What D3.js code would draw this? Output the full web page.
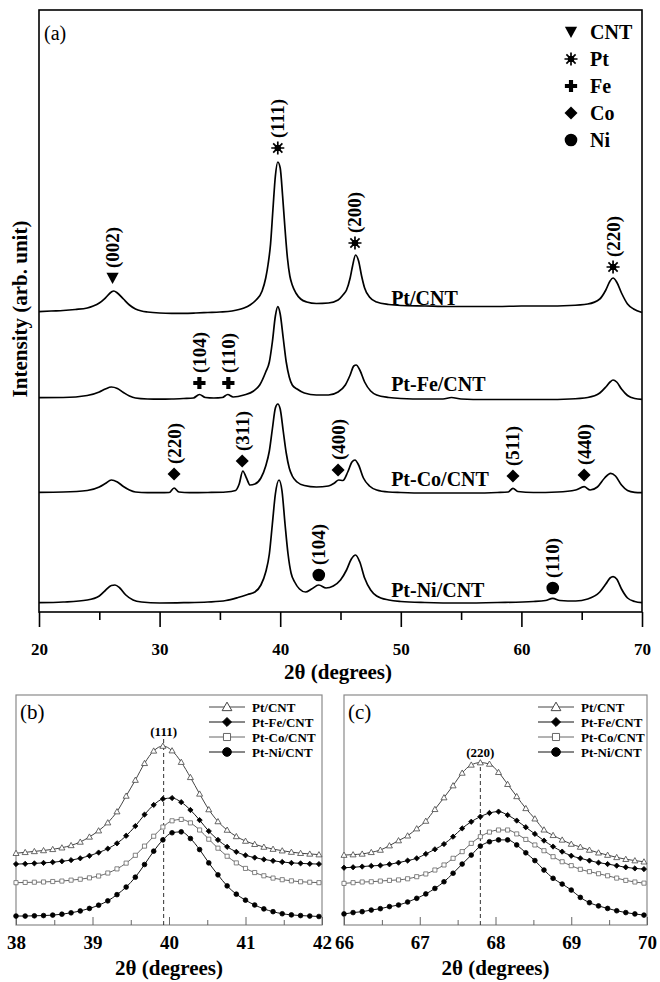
<!DOCTYPE html>
<html>
<head>
<meta charset="utf-8">
<script src="https://cdn.jsdelivr.net/npm/d3@7"></script>
<style>
  body { margin: 0; background: #fff; }
  svg text { font-family: "Liberation Serif", "Times New Roman", serif; }
</style>
</head>
<body>
<div id="chart"></div>
<script>
// ---------- data : panel (a), full XRD patterns [2theta, intensity] ----------
var samples = ["Pt/CNT", "Pt-Fe/CNT", "Pt-Co/CNT", "Pt-Ni/CNT"];
var traceOffsets = [2980, 2120, 1170, 60];

var xrdPtCNT = [[20,23],[21,30],[22,35],[23,45],[24,60],[24.5,80],[25,110],[25.5,160],[26,220],[26.2,230],[26.5,210],[27,150],[27.5,90],[28,50],[28.5,30],[29,20],[30,10],[31,7],[32,7],[33,10],[34,15],[35,20],[36,30],[37,60],[37.5,90],[38,140],[38.5,230],[38.8,360],[39,500],[39.2,700],[39.4,1050],[39.6,1380],[39.8,1520],[40,1460],[40.2,1180],[40.4,850],[40.6,560],[40.8,380],[41,290],[41.3,210],[41.7,150],[42.2,120],[43,105],[44,110],[44.8,140],[45.2,190],[45.5,240],[45.8,360],[46,480],[46.25,590],[46.5,530],[46.75,380],[47,260],[47.4,170],[48,120],[49,95],[50,85],[52,80],[54,75],[56,75],[58,75],[60,80],[62,80],[64,85],[65.5,100],[66.5,150],[67,240],[67.35,330],[67.6,360],[67.9,320],[68.3,210],[68.8,100],[69.3,50],[70,15]];

var xrdPtFe = [[20,23],[22,25],[24,45],[25,80],[25.5,110],[26,130],[26.5,115],[27,75],[27.5,40],[28,20],[29,10],[30,8],[31,10],[32,15],[32.8,20],[33.3,55],[33.8,25],[34.5,20],[35.2,25],[35.65,55],[36.1,30],[37,50],[37.8,90],[38.3,150],[38.8,280],[39.1,380],[39.35,580],[39.6,840],[39.8,933],[40,860],[40.25,620],[40.5,380],[40.75,230],[41,150],[41.4,110],[42,70],[43,50],[44,50],[44.8,80],[45.4,150],[45.8,250],[46.1,340],[46.3,350],[46.6,300],[47,180],[47.5,90],[48,50],[49,25],[50,15],[52,10],[53.5,10],[54.2,25],[55,10],[57,5],[60,5],[62,5],[64,10],[65.5,25],[66.5,70],[67,130],[67.35,180],[67.6,200],[67.9,180],[68.3,110],[68.8,45],[69.4,15],[70,7]];

var xrdPtCo = [[20,27],[22,30],[24,45],[25,80],[25.5,115],[26,150],[26.5,130],[27,85],[27.5,50],[28,30],[29,23],[30,23],[30.8,25],[31.2,70],[31.6,30],[32.5,23],[34,25],[35.5,30],[36.3,45],[36.6,110],[36.9,240],[37.2,170],[37.5,100],[37.9,110],[38.4,170],[38.8,290],[39.1,440],[39.35,660],[39.6,870],[39.8,910],[40,860],[40.25,640],[40.5,420],[40.75,270],[41,190],[41.4,130],[42,95],[43,80],[44,90],[44.5,120],[44.85,150],[45.2,145],[45.6,230],[45.95,330],[46.2,350],[46.5,300],[46.9,170],[47.4,90],[48,50],[49,30],[50,25],[52,20],[54,20],[56,20],[58,25],[58.9,30],[59.3,67],[59.7,35],[61,25],[63,30],[64.5,50],[65.2,83],[65.7,50],[66.3,80],[66.9,170],[67.4,217],[67.8,190],[68.3,100],[68.8,45],[69.4,27],[70,23]];

var xrdPtNi = [[20,33],[22,40],[24,60],[25,100],[25.5,155],[26,205],[26.3,210],[26.7,180],[27.2,110],[27.8,60],[28.5,40],[30,30],[32,33],[34,40],[35.5,55],[36.5,85],[37.3,115],[37.9,140],[38.4,210],[38.8,340],[39.1,520],[39.35,820],[39.6,1120],[39.9,1260],[40.15,1150],[40.4,820],[40.65,520],[40.9,330],[41.2,240],[41.6,170],[42.1,140],[42.6,170],[43.2,210],[43.8,180],[44.4,200],[45,260],[45.5,360],[45.9,470],[46.25,510],[46.6,440],[47,280],[47.5,160],[48,100],[49,60],[50,45],[52,35],[55,30],[58,35],[61,45],[62,55],[62.6,77],[63.2,55],[64.5,50],[65.5,70],[66.5,140],[67,220],[67.35,280],[67.6,293],[67.9,270],[68.3,170],[68.8,80],[69.4,45],[70,33]];

var xrdTraces = [xrdPtCNT, xrdPtFe, xrdPtCo, xrdPtNi];

// phase legend and indexed reflections
var phases = ["CNT", "Pt", "Fe", "Co", "Ni"];
var peakLabels = [
  {sample: 0, phase: "CNT", hkl: "(002)", twoTheta: 26.1,  intensity: 360},
  {sample: 0, phase: "Pt",  hkl: "(111)", twoTheta: 39.8,  intensity: 1660},
  {sample: 0, phase: "Pt",  hkl: "(200)", twoTheta: 46.2,  intensity: 710},
  {sample: 0, phase: "Pt",  hkl: "(220)", twoTheta: 67.6,  intensity: 470},
  {sample: 1, phase: "Fe",  hkl: "(104)", twoTheta: 33.3,  intensity: 170},
  {sample: 1, phase: "Fe",  hkl: "(110)", twoTheta: 35.7,  intensity: 170},
  {sample: 2, phase: "Co",  hkl: "(220)", twoTheta: 31.2,  intensity: 210},
  {sample: 2, phase: "Co",  hkl: "(311)", twoTheta: 36.85, intensity: 340},
  {sample: 2, phase: "Co",  hkl: "(400)", twoTheta: 44.8,  intensity: 250},
  {sample: 2, phase: "Co",  hkl: "(511)", twoTheta: 59.3,  intensity: 190},
  {sample: 2, phase: "Co",  hkl: "(440)", twoTheta: 65.2,  intensity: 200},
  {sample: 3, phase: "Ni",  hkl: "(104)", twoTheta: 43.2,  intensity: 310},
  {sample: 3, phase: "Ni",  hkl: "(110)", twoTheta: 62.6,  intensity: 180}
];

var mainTicks = [20, 30, 40, 50, 60, 70];
var mainMinorTicks = [25, 35, 45, 55, 65];

// ---------- data : panel (b), Pt (111) region ----------
var theta111 = [38.00,38.12,38.24,38.36,38.48,38.60,38.72,38.84,38.96,39.08,39.20,39.32,39.44,39.56,39.68,39.80,39.92,40.04,40.16,40.28,40.40,40.52,40.64,40.76,40.88,41.00,41.12,41.24,41.36,41.48,41.60,41.72,41.84,41.96];
var i111PtCNT = [31.2,31.6,32.0,32.4,32.9,33.6,34.6,36.1,38.3,41.0,44.5,49.3,56.1,63.0,70.3,75.7,77.8,75.8,70.8,64.2,57.0,50.2,45.0,41.3,38.5,36.5,35.1,33.9,33.0,32.3,31.7,31.2,30.9,30.6];
var i111PtFe  = [26.5,26.6,26.8,27.0,27.3,27.7,28.2,29.0,30.1,31.5,33.2,35.5,38.8,43.0,48.0,52.2,54.8,55.2,53.4,50.0,45.6,40.8,37.0,34.0,31.8,30.3,29.3,28.5,27.9,27.4,27.0,26.8,26.6,26.5];
var i111PtCo  = [18.4,18.5,18.6,18.7,18.9,19.1,19.5,19.9,20.5,21.3,22.6,24.4,26.9,30.3,34.3,38.6,42.6,45.3,45.9,44.4,41.3,37.3,33.4,29.9,27.0,24.6,22.8,21.4,20.4,19.7,19.2,18.8,18.6,18.4];
var i111PtNi  = [3.9,3.9,4.0,4.1,4.3,4.7,5.3,6.1,7.2,8.6,10.5,13.2,16.5,20.8,26.3,32.1,37.0,40.1,40.5,37.6,32.8,27.0,21.8,17.0,13.4,10.8,8.7,7.0,5.8,4.9,4.4,4.1,3.9,3.7];
var peak111 = 39.93;
var ticks111 = [38, 39, 40, 41, 42];
var minor111 = [38.5, 39.5, 40.5, 41.5];

// ---------- data : panel (c), Pt (220) region ----------
var theta220 = [66.00,66.12,66.24,66.36,66.48,66.60,66.72,66.84,66.96,67.08,67.20,67.32,67.44,67.56,67.68,67.80,67.92,68.04,68.16,68.28,68.40,68.52,68.64,68.76,68.88,69.00,69.12,69.24,69.36,69.48,69.60,69.72,69.84,69.96];
var i220PtCNT = [30.4,30.6,30.9,31.6,32.6,34.5,36.7,38.8,41.9,45.2,50.3,55.4,60.6,66.1,69.6,70.6,70.0,66.4,61.2,55.9,50.7,46.2,41.4,39.0,37.0,35.2,33.9,32.6,31.4,30.4,29.4,28.6,28.0,27.5];
var i220PtFe  = [24.9,25.1,25.4,25.7,25.9,26.4,27.1,28.0,29.0,30.9,32.9,35.2,38.4,42.0,44.9,47.1,48.7,49.3,47.8,45.4,42.5,39.6,36.7,34.1,31.9,30.1,29.0,28.0,27.1,26.5,25.8,25.1,24.6,24.3];
var i220PtCo  = [18.1,18.4,18.7,18.8,19.1,19.4,19.6,20.1,21.0,22.2,23.9,26.1,29.0,31.9,35.5,38.4,40.4,41.3,41.3,39.6,37.2,34.8,32.3,29.7,27.5,25.8,24.2,23.2,22.3,21.4,20.4,19.4,18.7,18.2];
var i220PtNi  = [4.8,5.4,5.8,6.5,7.1,8.0,8.7,10.0,11.6,13.5,15.9,18.8,22.5,26.5,30.4,34.3,36.2,37.0,37.0,34.8,31.4,28.0,23.9,20.3,17.8,15.2,12.0,9.7,8.3,7.2,6.2,5.4,4.8,4.3];
var peak220 = 67.8;
var ticks220 = [66, 67, 68, 69, 70];
var minor220 = [66.5, 67.5, 68.5, 69.5];

// ---------- symbols (size = diameter^2) ----------
function rad(size) { return Math.sqrt(size) / 2; }
var symDown = { draw: function(c, s) { var r = rad(s); c.moveTo(-r, -r * 0.85); c.lineTo(r, -r * 0.85); c.lineTo(0, r); c.closePath(); } };
var symUp = { draw: function(c, s) { var r = rad(s); c.moveTo(0, -r); c.lineTo(r, r * 0.75); c.lineTo(-r, r * 0.75); c.closePath(); } };
var symStar = { draw: function(c, s) {
  var r = rad(s);
  for (var k = 0; k < 4; k++) {
    var a = k * Math.PI / 4;
    c.moveTo(r * Math.cos(a), r * Math.sin(a));
    c.lineTo(-r * Math.cos(a), -r * Math.sin(a));
  }
  var cr = r * 0.38;
  c.moveTo(cr, 0); c.arc(0, 0, cr, 0, 2 * Math.PI);
} };
var symPlus = { draw: function(c, s) {
  var r = rad(s), t = r * 0.34;
  c.moveTo(-t, -r); c.lineTo(t, -r); c.lineTo(t, -t); c.lineTo(r, -t); c.lineTo(r, t); c.lineTo(t, t);
  c.lineTo(t, r); c.lineTo(-t, r); c.lineTo(-t, t); c.lineTo(-r, t); c.lineTo(-r, -t); c.lineTo(-t, -t); c.closePath();
} };
var symDiamond = { draw: function(c, s) { var r = rad(s); c.moveTo(0, -r); c.lineTo(r, 0); c.lineTo(0, r); c.lineTo(-r, 0); c.closePath(); } };
var symSquare = { draw: function(c, s) { var r = rad(s); c.rect(-r, -r, 2 * r, 2 * r); } };
var symCircle = { draw: function(c, s) { var r = rad(s); c.moveTo(r, 0); c.arc(0, 0, r, 0, 2 * Math.PI); } };

var phaseSymbol = {CNT: symDown, Pt: symStar, Fe: symPlus, Co: symDiamond, Ni: symCircle};
var phaseSize = {CNT: 150, Pt: 170, Fe: 150, Co: 170, Ni: 160};

var zoomStyle = [
  {type: symUp,      size: 36, legendSize: 95, fill: "#fff", stroke: "#444", line: "#444"},
  {type: symDiamond, size: 28, legendSize: 80, fill: "#000", stroke: "#000", line: "#111"},
  {type: symSquare,  size: 17, legendSize: 50, fill: "#fff", stroke: "#666", line: "#666"},
  {type: symCircle,  size: 22, legendSize: 75, fill: "#000", stroke: "#000", line: "#111"}
];

// ---------- drawing ----------
var svg = d3.select("#chart").append("svg")
  .attr("width", 660)
  .attr("height", 982);

// panel (a)
var a = {left: 39, right: 642, top: 10, bottom: 612};
var xA = d3.scaleLinear().domain([20, 70]).range([a.left, a.right]);
var yA = d3.scaleLinear().domain([0, 6020]).range([a.bottom, a.top]);

svg.append("rect")
  .attr("x", a.left).attr("y", a.top)
  .attr("width", a.right - a.left).attr("height", a.bottom - a.top)
  .attr("fill", "none").attr("stroke", "#000").attr("stroke-width", 1.6);

var axA = svg.append("g")
  .attr("transform", "translate(0," + a.bottom + ")")
  .call(d3.axisBottom(xA).tickValues(mainTicks).tickSize(15).tickSizeOuter(0).tickPadding(16).tickFormat(d3.format("d")));
axA.select(".domain").remove();
axA.selectAll("line").attr("stroke-width", 1.6);
axA.selectAll("text").attr("font-size", 17).attr("font-weight", "bold")
  .attr("font-family", "Liberation Serif, Times New Roman, serif");

var axAminor = svg.append("g")
  .attr("transform", "translate(0," + a.bottom + ")")
  .call(d3.axisBottom(xA).tickValues(mainMinorTicks).tickSize(8).tickSizeOuter(0).tickFormat(""));
axAminor.select(".domain").remove();
axAminor.selectAll("line").attr("stroke-width", 1.6);

xrdTraces.forEach(function(trace, i) {
  var line = d3.line()
    .x(function(d) { return xA(d[0]); })
    .y(function(d) { return yA(d[1] + traceOffsets[i]); })
    .curve(d3.curveMonotoneX);
  svg.append("path")
    .datum(trace)
    .attr("d", line)
    .attr("fill", "none")
    .attr("stroke", "#000")
    .attr("stroke-width", 1.7);

  svg.append("text")
    .attr("x", xA(49.2))
    .attr("y", yA(traceOffsets[i]) - 9)
    .attr("font-size", 20).attr("font-weight", "bold")
    .text(samples[i]);
});

var marks = svg.selectAll(".peak")
  .data(peakLabels)
  .enter().append("g")
  .attr("class", "peak")
  .attr("transform", function(d) {
    return "translate(" + xA(d.twoTheta) + "," + yA(d.intensity + traceOffsets[d.sample]) + ")";
  });

marks.append("path")
  .attr("d", function(d) { return d3.symbol().type(phaseSymbol[d.phase]).size(phaseSize[d.phase])(); })
  .attr("fill", "#000")
  .attr("stroke", "#000")
  .attr("stroke-width", function(d) { return d.phase === "Pt" ? 1.7 : 0; });

marks.append("text")
  .attr("transform", "rotate(-90)")
  .attr("x", 10)
  .attr("dy", "0.34em")
  .attr("font-size", 19).attr("font-weight", "bold")
  .text(function(d) { return d.hkl; });

var legA = svg.selectAll(".phase")
  .data(phases)
  .enter().append("g")
  .attr("class", "phase")
  .attr("transform", function(d, i) { return "translate(571," + (32 + i * 27) + ")"; });
legA.append("path")
  .attr("d", function(d) { return d3.symbol().type(phaseSymbol[d]).size(phaseSize[d])(); })
  .attr("fill", "#000").attr("stroke", "#000")
  .attr("stroke-width", function(d) { return d === "Pt" ? 1.7 : 0; });
legA.append("text")
  .attr("x", 19).attr("dy", "0.35em")
  .attr("font-size", 20).attr("font-weight", "bold")
  .text(function(d) { return d; });

svg.append("text").attr("x", 44).attr("y", 40).attr("font-size", 20).text("(a)");

svg.append("text")
  .attr("transform", "translate(27,309) rotate(-90)")
  .attr("text-anchor", "middle")
  .attr("font-size", 21).attr("font-weight", "bold")
  .text("Intensity (arb. unit)");

svg.append("text")
  .attr("x", 338).attr("y", 679)
  .attr("text-anchor", "middle")
  .attr("font-size", 21).attr("font-weight", "bold")
  .text("2\u03b8 (degrees)");

// panels (b) and (c)
function zoomPanel(box, xDomain, thetas, series, peak, hkl, hklY, ticks, minor, tag, legX) {
  var x = d3.scaleLinear().domain(xDomain).range([box.left, box.right]);
  var y = d3.scaleLinear().domain([0, 100]).range([box.bottom, box.top]);

  svg.append("rect")
    .attr("x", box.left).attr("y", box.top)
    .attr("width", box.right - box.left).attr("height", box.bottom - box.top)
    .attr("fill", "none").attr("stroke", "#8a8a8a").attr("stroke-width", 1.2);

  var ax = svg.append("g")
    .attr("transform", "translate(0," + box.bottom + ")")
    .call(d3.axisBottom(x).tickValues(ticks).tickSize(-8).tickSizeOuter(0).tickPadding(11).tickFormat(d3.format("d")));
  ax.select(".domain").remove();
  ax.selectAll("line").attr("stroke", "#666");
  ax.selectAll("text").attr("font-size", 19).attr("font-weight", "bold")
    .attr("font-family", "Liberation Serif, Times New Roman, serif");

  var axm = svg.append("g")
    .attr("transform", "translate(0," + box.bottom + ")")
    .call(d3.axisBottom(x).tickValues(minor).tickSize(-5).tickSizeOuter(0).tickFormat(""));
  axm.select(".domain").remove();
  axm.selectAll("line").attr("stroke", "#666");

  svg.append("line")
    .attr("x1", x(peak)).attr("x2", x(peak))
    .attr("y1", hklY + 3).attr("y2", box.bottom)
    .attr("stroke", "#333").attr("stroke-width", 1)
    .attr("stroke-dasharray", "4,3");
  svg.append("text")
    .attr("x", x(peak)).attr("y", hklY)
    .attr("text-anchor", "middle")
    .attr("font-size", 13).attr("font-weight", "bold")
    .text(hkl);

  series.forEach(function(vals, i) {
    var st = zoomStyle[i];
    var pts = thetas.map(function(t, k) { return [t, vals[k]]; });
    var line = d3.line()
      .x(function(d) { return x(d[0]); })
      .y(function(d) { return y(d[1]); })
      .curve(d3.curveMonotoneX);
    svg.append("path")
      .datum(pts)
      .attr("d", line)
      .attr("fill", "none").attr("stroke", st.line).attr("stroke-width", 1);
    svg.append("g").selectAll("path")
      .data(pts)
      .enter().append("path")
      .attr("transform", function(d) { return "translate(" + x(d[0]) + "," + y(d[1]) + ")"; })
      .attr("d", d3.symbol().type(st.type).size(st.size)())
      .attr("fill", st.fill).attr("stroke", st.stroke).attr("stroke-width", 0.8);
  });

  // legend
  var leg = svg.selectAll(".leg" + tag)
    .data(samples)
    .enter().append("g")
    .attr("class", "leg" + tag)
    .attr("transform", function(d, i) { return "translate(" + legX + "," + (707 + i * 15) + ")"; });
  leg.append("line")
    .attr("x1", -18).attr("x2", 18)
    .attr("stroke", function(d, i) { return zoomStyle[i].line; }).attr("stroke-width", 1);
  leg.append("path")
    .attr("d", function(d, i) { return d3.symbol().type(zoomStyle[i].type).size(zoomStyle[i].legendSize)(); })
    .attr("fill", function(d, i) { return zoomStyle[i].fill; })
    .attr("stroke", function(d, i) { return zoomStyle[i].stroke; })
    .attr("stroke-width", 1);
  leg.append("text")
    .attr("x", 25).attr("dy", "0.35em")
    .attr("font-size", 13).attr("font-weight", "bold")
    .text(function(d) { return d; });

  svg.append("text")
    .attr("x", box.left + 4).attr("y", box.top + 24)
    .attr("font-size", 21)
    .text("(" + tag + ")");

  svg.append("text")
    .attr("x", (box.left + box.right) / 2).attr("y", 975)
    .attr("text-anchor", "middle")
    .attr("font-size", 21).attr("font-weight", "bold")
    .text("2\u03b8 (degrees)");
}

zoomPanel({left: 16, right: 322, top: 695, bottom: 925}, [38, 42], theta111,
  [i111PtCNT, i111PtFe, i111PtCo, i111PtNi], peak111, "(111)", 736, ticks111, minor111, "b", 227);
zoomPanel({left: 344, right: 647, top: 695, bottom: 925}, [66, 70], theta220,
  [i220PtCNT, i220PtFe, i220PtCo, i220PtNi], peak220, "(220)", 757, ticks220, minor220, "c", 556);
</script>
</body>
</html>
